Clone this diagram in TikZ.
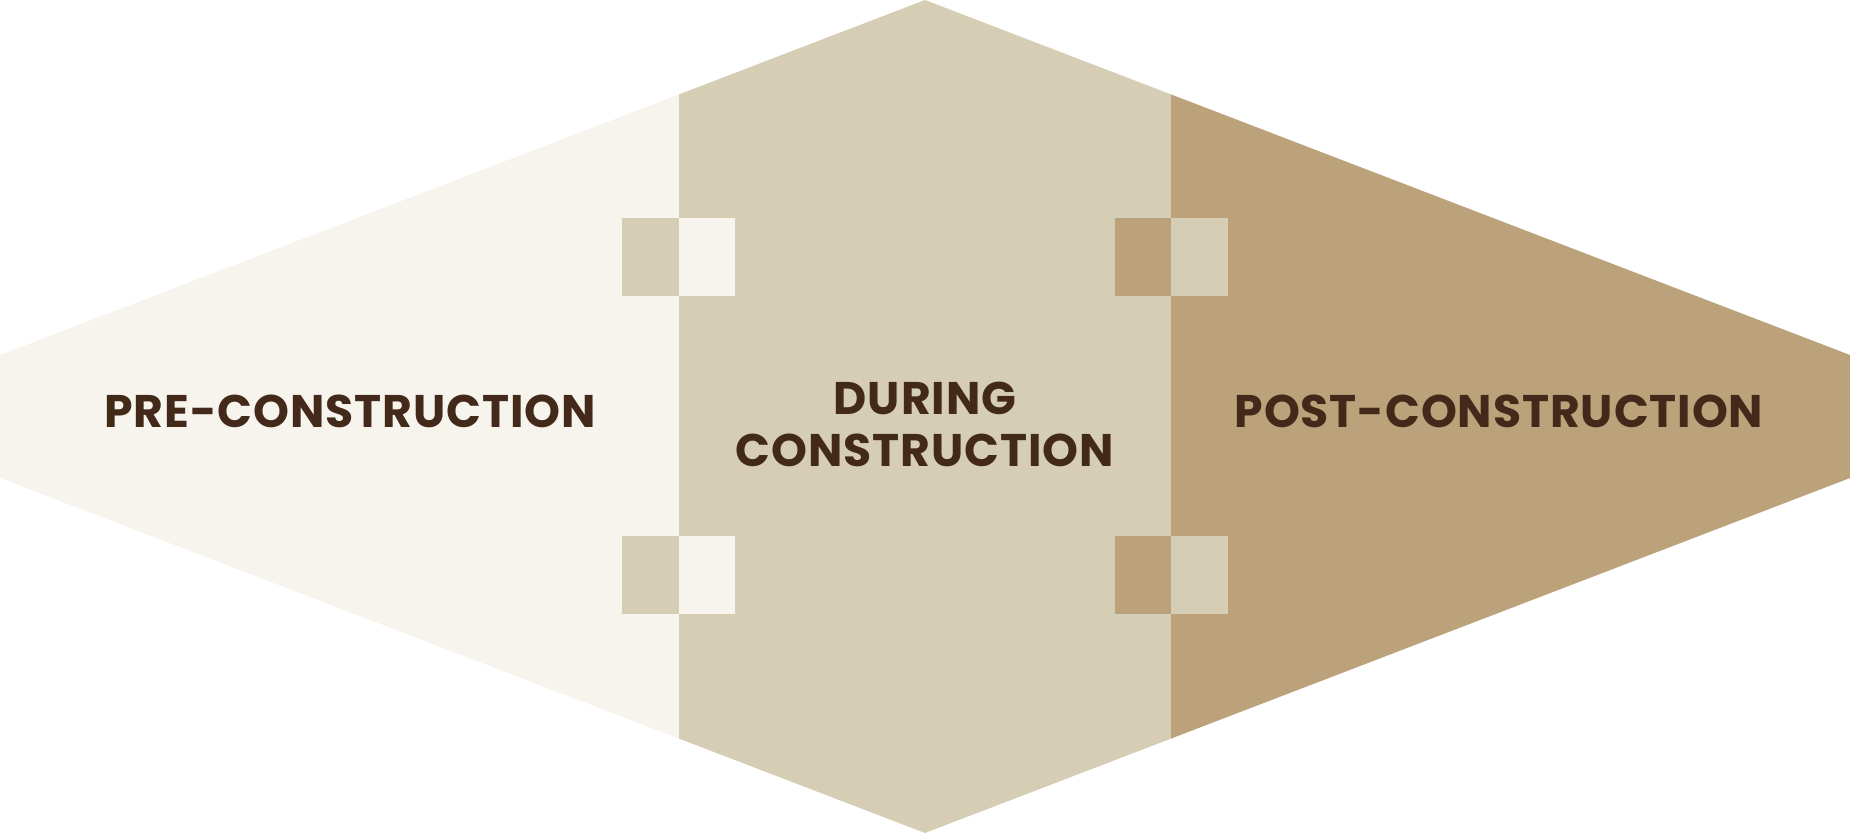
\documentclass[tikz,border=0pt]{standalone}
\usepackage{fontspec}
\setmainfont{Poppins}[LetterSpace=2]
\definecolor{phasepre}{HTML}{F7F4ED}
\definecolor{phaseduring}{HTML}{D6CDB5}
\definecolor{phasepost}{HTML}{BCA27A}
\definecolor{phasetext}{HTML}{43291A}

\begin{document}
\begin{tikzpicture}[x=0.01cm,y=-0.01cm]
\tikzset{
  phaselabel/.style={font=\bfseries\fontsize{13}{14.8}\selectfont,text=phasetext,align=center,inner sep=0pt}
}
\useasboundingbox (0,0) rectangle (1850,833);
% the three phases
\fill[phasepre] (0,355) -- (679,94.4) -- (679,738.6) -- (0,478) -- cycle;
\fill[phaseduring] (679,94.4) -- (925,0) -- (1171,94.4) -- (1171,738.6) -- (925,833) -- (679,738.6) -- cycle;
\fill[phasepost] (1171,94.4) -- (1850,355) -- (1850,478) -- (1171,738.6) -- cycle;
% tiles on the borders
\foreach \y in {218,536} {
  \fill[phaseduring] (622,\y) rectangle (679,\y+78);
  \fill[phasepre] (679,\y) rectangle (735,\y+78);
  \fill[phasepost] (1115,\y) rectangle (1171,\y+78);
  \fill[phaseduring] (1171,\y) rectangle (1228,\y+78);
}
\node[phaselabel] (n_pre) at (350,411) {PRE-CONSTRUCTION};
\node[phaselabel] (n_during) at (925,424) {DURING\\CONSTRUCTION};
\node[phaselabel] (n_post) at (1499,411.5) {POST-CONSTRUCTION};
\end{tikzpicture}
\end{document}
